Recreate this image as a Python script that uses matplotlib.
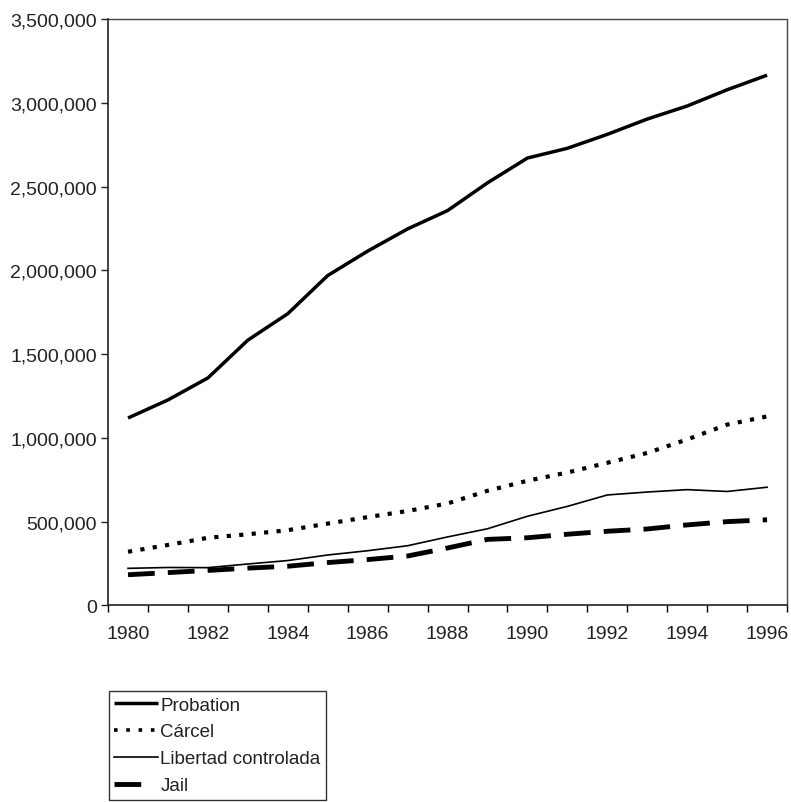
import matplotlib
matplotlib.use("Agg")
import matplotlib.pyplot as plt
from matplotlib.lines import Line2D
from matplotlib.ticker import FuncFormatter, FixedLocator

years = list(range(1980, 1997))
probation = [1118097, 1225934, 1357264, 1582947, 1740948, 1968712, 2114621, 2247158,
             2356483, 2522125, 2670234, 2728472, 2811611, 2903061, 2981022, 3077861, 3164996]
carcel = [319598, 360029, 402914, 423898, 448264, 487593, 526436, 562814,
          607766, 683367, 743382, 792535, 850566, 909381, 990147, 1078542, 1127528]
libertad = [220438, 225539, 224604, 246440, 266992, 300203, 325638, 355505,
            407977, 456803, 531407, 590442, 658601, 676100, 690371, 679421, 704709]
jail = [182288, 195085, 207853, 221815, 233018, 254986, 272735, 294092,
        341893, 393303, 403019, 424129, 441781, 455500, 479800, 499300, 510400]
labels = ["Probation", "Cárcel", "Libertad controlada", "Jail"]

plt.rcParams['font.family'] = ['Liberation Sans', 'DejaVu Sans']
fs_tick = 14
fs_leg = 13.5
fig = plt.figure(figsize=(7.91, 8.03), dpi=100)
ax = fig.add_axes([0.1366, 0.245, 0.8584, 0.730])

x = list(range(len(years)))
l1, = ax.plot(x, probation, color='black', lw=2.5, solid_capstyle='butt')
l2, = ax.plot(x, carcel, color='black', lw=3, linestyle=(0, (1, 2)), dash_capstyle='butt')
l3, = ax.plot(x, libertad, color='black', lw=1.2)
l4, = ax.plot(x, jail, color='black', lw=3.5, linestyle=(0, (5.5, 2.7)), dash_capstyle='butt')
l2h = Line2D([], [], color='black', lw=2.6, linestyle=(0, (1, 2.4)), dash_capstyle='butt')
l4h = Line2D([], [], color='black', lw=3.5, linestyle=(0, (5.5, 5)), dash_capstyle='butt')

ax.set_xlim(-0.5, len(years) - 0.5)
ax.set_ylim(0, 3500000)
ax.set_yticks(range(0, 3500001, 500000))
ax.yaxis.set_major_formatter(FuncFormatter(lambda v, p: f"{int(v):,}"))
ax.tick_params(axis='y', direction='out', length=5, width=1, labelsize=fs_tick, pad=3, colors='#222222')

ax.xaxis.set_major_locator(FixedLocator([i - 0.5 for i in range(len(years) + 1)]))
ax.xaxis.set_major_formatter(FuncFormatter(lambda v, p: ""))
ax.xaxis.set_minor_locator(FixedLocator(x[::2]))
ax.xaxis.set_minor_formatter(FuncFormatter(lambda v, p: str(years[int(round(v))])))
ax.tick_params(axis='x', which='major', direction='out', length=5, width=1)
ax.tick_params(axis='x', which='minor', length=0, labelsize=fs_tick, pad=14, colors='#222222')

for s in ['left', 'bottom']:
    ax.spines[s].set_linewidth(1.2)
    ax.spines[s].set_color('#222222')
for s in ['top', 'right']:
    ax.spines[s].set_linestyle((0, (1, 1)))
    ax.spines[s].set_linewidth(1.0)
    ax.spines[s].set_color('#444444')

leg = fig.legend([l1, l2h, l3, l4h], labels, loc='upper left',
                 bbox_to_anchor=(109 / 791, 1 - 692 / 803), fontsize=fs_leg,
                 frameon=True, fancybox=False, edgecolor='#333333', framealpha=1,
                 handlelength=2.3, handletextpad=0.15, labelspacing=0.52,
                 borderpad=0.29, borderaxespad=0)
leg.get_frame().set_linewidth(1.0)
for t in leg.get_texts():
    t.set_color('#222222')

fig.savefig("out.png", dpi=100)
